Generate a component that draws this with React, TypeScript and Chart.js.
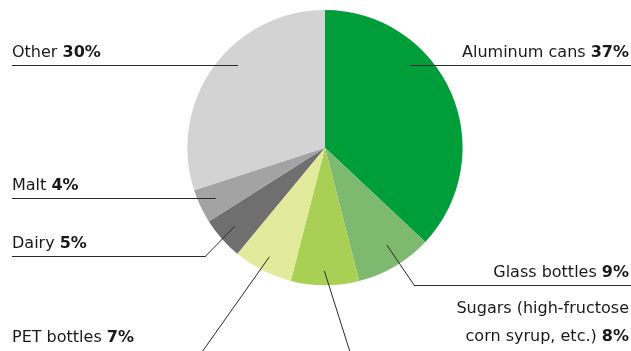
import React, { useEffect, useRef } from "react";
import { Chart, registerables } from "chart.js";

Chart.register(...registerables);

const categories = [
  "Aluminum cans",
  "Glass bottles",
  "Sugars (high-fructose corn syrup, etc.)",
  "PET bottles",
  "Dairy",
  "Malt",
  "Other",
];
const shares = [37, 9, 8, 7, 5, 4, 30];
const sliceColors = ["#009E3B", "#7DB96E", "#AACF55", "#E2EA9B", "#6F6F6F", "#A3A3A3", "#D3D3D3"];
// label text lines: [normal part, bold part] per line
const labelLines: string[][][] = [
  [["Aluminum cans ", "37%"]],
  [["Glass bottles ", "9%"]],
  [["Sugars (high-fructose", ""], ["corn syrup, etc.) ", "8%"]],
  [["PET bottles ", "7%"]],
  [["Dairy ", "5%"]],
  [["Malt ", "4%"]],
  [["Other ", "30%"]],
];

const W = 631;
const H = 351;
const FONT = '"DejaVu Sans", Verdana, sans-serif';

// Layout of annotation for each slice (same order as categories)
type Layout = {
  f: number; // fraction along slice angle
  rf: number; // fraction of radius
  side: "left" | "right";
  elbow?: [number, number]; // offset from anchor for elbow, then horizontal to edge
  end?: [number, number]; // absolute end point for straight leader (no horizontal)
  textX: number;
  textBaseline?: number; // absolute baseline (when no horizontal line)
};
const layouts: Layout[] = [
  { f: 0.344, rf: 0.862, side: "right", textX: 629 },
  { f: 0.444, rf: 0.837, side: "right", elbow: [27.3, 40], textX: 629 },
  { f: 0.51, rf: 0.896, side: "right", end: [350, 352], textX: 629, textBaseline: 312.5 },
  { f: 0.5, rf: 0.89, side: "left", end: [202, 352], textX: 12, textBaseline: 342 },
  { f: 0.52, rf: 0.867, side: "left", elbow: [-29.3, 30], textX: 12 },
  { f: 0.53, rf: 0.875, side: "left", textX: 12 },
  { f: 0.57, rf: 0.872, side: "left", textX: 12 },
];

function drawLabel(ctx: CanvasRenderingContext2D, lines: string[][], x: number, baseline: number, align: "left" | "right") {
  lines.forEach((ln, i) => {
    const y = baseline + i * 28.5;
    ctx.font = `16px ${FONT}`;
    const w1 = ctx.measureText(ln[0]).width;
    ctx.font = `bold 16px ${FONT}`;
    const w2 = ln[1] ? ctx.measureText(ln[1]).width : 0;
    const start = align === "left" ? x : x - w1 - w2;
    ctx.fillStyle = "#1a1a1a";
    ctx.textAlign = "left";
    ctx.textBaseline = "alphabetic";
    ctx.font = `16px ${FONT}`;
    ctx.fillText(ln[0], start, y);
    if (ln[1]) {
      ctx.font = `bold 16px ${FONT}`;
      ctx.fillText(ln[1], start + w1, y);
    }
  });
}

const leaderPlugin = {
  id: "leaders",
  afterDraw(chart: any) {
    const ctx: CanvasRenderingContext2D = chart.ctx;
    const meta = chart.getDatasetMeta(0);
    ctx.save();
    meta.data.forEach((arc: any, i: number) => {
      const L = layouts[i];
      const { x, y, startAngle, endAngle, outerRadius } = arc.getProps(
        ["x", "y", "startAngle", "endAngle", "outerRadius"],
        true
      );
      const a = startAngle + L.f * (endAngle - startAngle);
      const ax = x + Math.cos(a) * outerRadius * L.rf;
      const ay = y + Math.sin(a) * outerRadius * L.rf;
      ctx.strokeStyle = "#2a2a2a";
      ctx.lineWidth = 1;
      ctx.beginPath();
      ctx.moveTo(ax, ay);
      let lineY = ay;
      if (L.end) {
        ctx.lineTo(L.end[0], L.end[1]);
      } else {
        let px = ax;
        if (L.elbow) {
          px = ax + L.elbow[0];
          lineY = ay + L.elbow[1];
          ctx.lineTo(px, lineY);
        }
        const yy = Math.round(lineY) + 0.5;
        if (!L.elbow) ctx.moveTo(ax, yy);
        else ctx.lineTo(px, yy);
        ctx.lineTo(L.side === "left" ? 12 : W, yy);
        lineY = yy;
      }
      ctx.stroke();
      const base = L.textBaseline !== undefined ? L.textBaseline : lineY - 8.5;
      drawLabel(ctx, labelLines[i], L.textX, base, L.side);
    });
    ctx.restore();
  },
};

export default function App() {
  const ref = useRef<HTMLCanvasElement | null>(null);
  useEffect(() => {
    if (!ref.current) return;
    const chart = new Chart(ref.current, {
      type: "pie",
      data: {
        labels: categories,
        datasets: [
          {
            data: shares,
            backgroundColor: sliceColors,
            borderWidth: 0,
            hoverOffset: 0,
            offset: 0,
          },
        ],
      },
      options: {
        responsive: true,
        maintainAspectRatio: false,
        animation: false,
        events: [],
        layout: { padding: { left: 187.4, right: 168.4, top: 10.1, bottom: 65.7 } },
        plugins: { legend: { display: false }, tooltip: { enabled: false } },
      },
      plugins: [leaderPlugin],
    });
    return () => chart.destroy();
  }, []);
  return (
    <div style={{ position: "absolute", left: 0, top: 0, width: W, height: H, background: "#fff" }}>
      <canvas ref={ref} />
    </div>
  );
}
